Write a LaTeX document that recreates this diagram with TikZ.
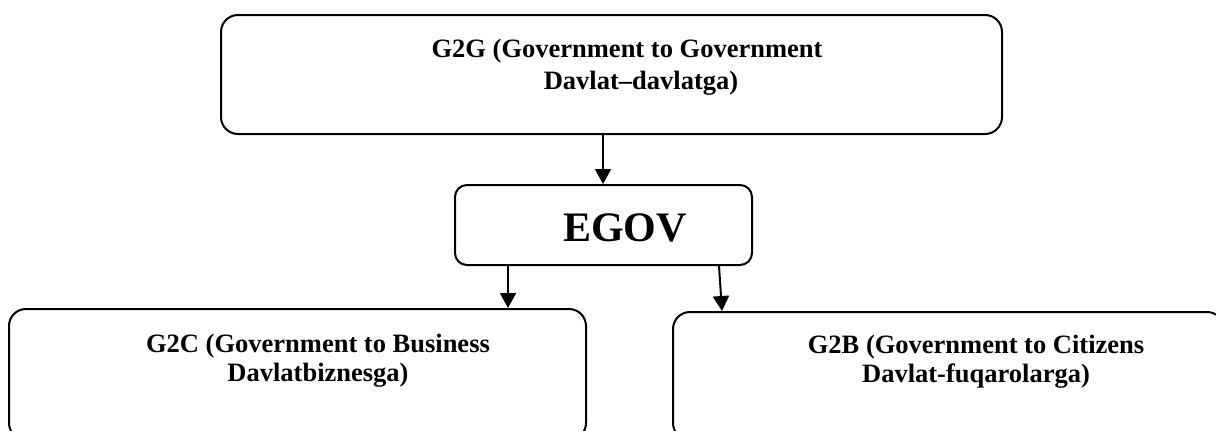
\documentclass[tikz,border=0pt]{standalone}
\usepackage{fontspec}
\setmainfont{Liberation Serif}
\usetikzlibrary{arrows.meta}
\begin{document}
\begin{tikzpicture}[x=1pt,y=-1pt,
  box/.style={draw, line width=2pt, rounded corners=17pt, inner sep=0pt},
  lbl/.style={font=\bfseries\fontsize{26.5}{29}\selectfont, align=center, inner sep=0pt, anchor=base},
  link/.style={line width=2pt, -{Triangle[length=15pt,width=16pt]}}
]
\clip (0,0) rectangle (1216,431);
\useasboundingbox (0,0) rectangle (1216,431);

% frames
\node[box, minimum width=781pt, minimum height=119pt] (g2g) at (611.5,74.5) {};
\node[box, rounded corners=12pt, minimum width=297pt, minimum height=80pt] (egov) at (603.5,225) {};
\node[box, minimum width=577pt, minimum height=131pt] (g2c) at (297.5,374.5) {};
\node[box, minimum width=551pt, minimum height=128pt] (g2b) at (948.5,376) {};

% captions (the base anchor sits on the last line)
\node[lbl, font=\bfseries\fontsize{26.5}{32}\selectfont] (g2gtxt) at (627,89)
  {G2G (Government to Government\\\hspace*{28pt}Davlat--davlatga)};
\node[font=\bfseries\fontsize{42}{42}\selectfont, inner sep=0pt, anchor=base] (egovtxt) at (625,241) {EGOV};
\node[lbl] (g2ctxt) at (318,381) {G2C (Government to Business\\Davlatbiznesga)};
\node[lbl] (g2btxt) at (976,382) {G2B (Government to Citizens\\Davlat-fuqarolarga)};

% connectors
\coordinate (a1) at (603,0);
\coordinate (a2) at (508,0);
\coordinate (a3) at (719,0);
\coordinate (a4) at (722,0);
\draw[link] (g2g.south -| a1) -- (egov.north -| a1);
\draw[link] (egov.south -| a2) -- (g2c.north -| a2);
\draw[link] (egov.south -| a3) -- (g2b.north -| a4);
\end{tikzpicture}
\end{document}
